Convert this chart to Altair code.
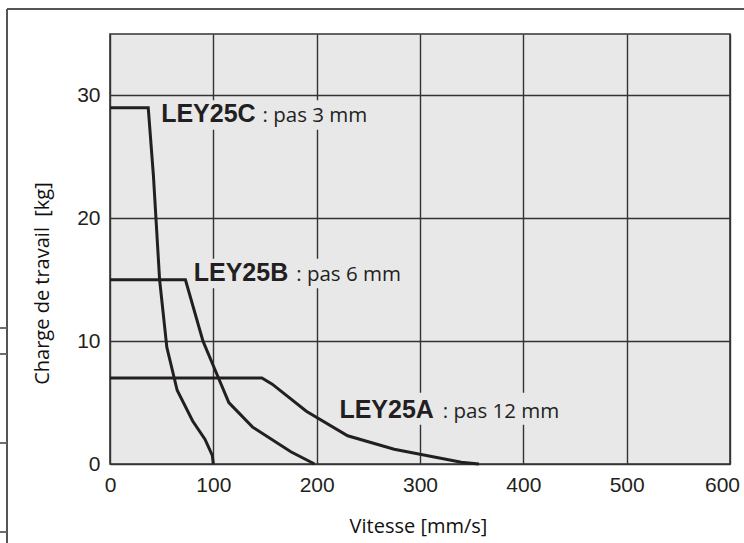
import altair as alt
import pandas as pd

# ---- data ----
c_speed = [0, 37, 42, 48, 55, 65, 80, 92, 99, 100]
c_load = [29, 29, 23.5, 15, 9.5, 6, 3.5, 2, 0.7, 0]

b_speed = [0, 73, 90, 100, 115, 138, 175, 198]
b_load = [15, 15, 10, 8, 5, 3, 1, 0]

a_speed = [0, 147, 157, 190, 230, 275, 300, 340, 357]
a_load = [7, 7, 6.5, 4.3, 2.3, 1.2, 0.8, 0.15, 0]

series_names = ["LEY25C", "LEY25B", "LEY25A"]

x_ticks = [0, 100, 200, 300, 400, 500, 600]
y_ticks = [0, 10, 20, 30]

# annotation labels (data units)
lab_bold = ["LEY25C", "LEY25B", "LEY25A"]
lab_rest = [": pas 3 mm", ": pas 6 mm", ": pas 12 mm"]
lab_x = [49.5, 81, 222]
lab_rest_x = [147.6, 180.2, 322]
lab_y = [27.8, 14.9, 3.72]
# background boxes behind labels (data units)
box_x1 = [47, 79, 219]
box_x2 = [250, 286, 440]
box_y1 = [27.2, 14.3, 3.2]
box_y2 = [29.6, 16.7, 5.8]

rows = []
for name, xs, ys in zip(series_names, [c_speed, b_speed, a_speed], [c_load, b_load, a_load]):
    for i, (sx, sy) in enumerate(zip(xs, ys)):
        rows.append({"serie": name, "speed": sx, "load": sy, "idx": i})
curves = pd.DataFrame(rows)

labels = pd.DataFrame({
    "bold": lab_bold, "rest": lab_rest, "x": lab_x, "xr": lab_rest_x, "y": lab_y,
    "bx1": box_x1, "bx2": box_x2, "by1": box_y1, "by2": box_y2,
})

INK = "#231f20"
GRID = "#333333"

xscale = alt.Scale(domain=[0, 600], nice=False, zero=False)
yscale = alt.Scale(domain=[0, 35], nice=False, zero=False)

x_axis = alt.Axis(
    values=x_ticks, grid=True, gridColor=GRID, gridWidth=1.4, gridOpacity=1,
    ticks=False, tickSize=0, domain=False, labelFlush=False, labelOverlap=False,
    labelPadding=10, labelFont="Liberation Sans", labelFontSize=21, labelColor=INK,
    labelOffset=alt.ExprRef("datum.value == 600 ? -8 : 0"),
    title="Vitesse [mm/s]", titleFont="Open Sans", titleFontSize=20,
    titleFontWeight="normal", titleColor="#111111", titleBaseline="middle",
    titleY=62, titleX=308,
)
y_axis = alt.Axis(
    values=y_ticks, grid=True, gridColor=GRID, gridWidth=1.4, gridOpacity=1,
    ticks=False, tickSize=0, domain=False, labelPadding=10,
    labelFont="Liberation Sans", labelFontSize=21, labelColor=INK,
    title="Charge de travail\u00a0\u00a0[kg]", titleFont="Open Sans", titleFontSize=20,
    titleFontWeight="normal", titleColor="#111111", titleAngle=-90,
    titleAlign="center", titleBaseline="middle", titleX=-68, titleY=249,
)

grid_layer = alt.Chart(curves).mark_point(opacity=0).encode(
    x=alt.X("speed:Q", scale=xscale, axis=x_axis),
    y=alt.Y("load:Q", scale=yscale, axis=y_axis),
)

boxes = alt.Chart(labels).mark_rect(color="#e8e8e8").encode(
    x=alt.X("bx1:Q", scale=xscale), x2="bx2:Q",
    y=alt.Y("by1:Q", scale=yscale), y2="by2:Q",
)

bold_text = alt.Chart(labels).mark_text(
    align="left", baseline="alphabetic", font="Liberation Sans",
    fontSize=25, fontWeight="bold", color=INK,
).encode(x=alt.X("x:Q", scale=xscale), y=alt.Y("y:Q", scale=yscale), text="bold:N")

rest_text = alt.Chart(labels).mark_text(
    align="left", baseline="alphabetic", font="Open Sans",
    fontSize=20.5, color=INK,
).encode(x=alt.X("xr:Q", scale=xscale), y=alt.Y("y:Q", scale=yscale), text="rest:N")

lines = alt.Chart(curves).mark_line(color=INK, strokeWidth=3, strokeJoin="miter").encode(
    x=alt.X("speed:Q", scale=xscale),
    y=alt.Y("load:Q", scale=yscale),
    detail="serie:N",
    order="idx:Q",
)

# outer frame of the figure (decoration)
frame_top = alt.Chart(labels).mark_rule(color="#555555", strokeWidth=2).encode(
    x=alt.value(-103), x2=alt.value(640), y=alt.value(-25)
)
frame_left = alt.Chart(labels).mark_rule(color="#555555", strokeWidth=2).encode(
    x=alt.value(-103), y=alt.value(-25), y2=alt.value(515)
)
frag1 = alt.Chart(labels).mark_rule(color="#666666", strokeWidth=1.2).encode(
    x=alt.value(-110), x2=alt.value(-103), y=alt.value(294)
)
frag2 = alt.Chart(labels).mark_rule(color="#666666", strokeWidth=1.2).encode(
    x=alt.value(-110), x2=alt.value(-103), y=alt.value(320)
)
frag3 = alt.Chart(labels).mark_rule(color="#666666", strokeWidth=1.2).encode(
    x=alt.value(-110), x2=alt.value(-103), y=alt.value(409)
)
frag4 = alt.Chart(labels).mark_rule(color="#666666", strokeWidth=1.2).encode(
    x=alt.value(-110), x2=alt.value(-103), y=alt.value(498)
)

chart = alt.layer(
    grid_layer, boxes, bold_text, rest_text, lines,
    frame_top, frame_left, frag1, frag2, frag3, frag4,
).properties(
    width=620, height=430,
    autosize=alt.AutoSizeParams(type="none"),
    padding={"left": 110, "top": 34, "right": 14, "bottom": 79},
    background="white",
).configure_view(
    fill="#e8e8e8", stroke=GRID, strokeWidth=1.6,
)

chart.save("out.html", embed_options={"renderer": "svg", "actions": False})
